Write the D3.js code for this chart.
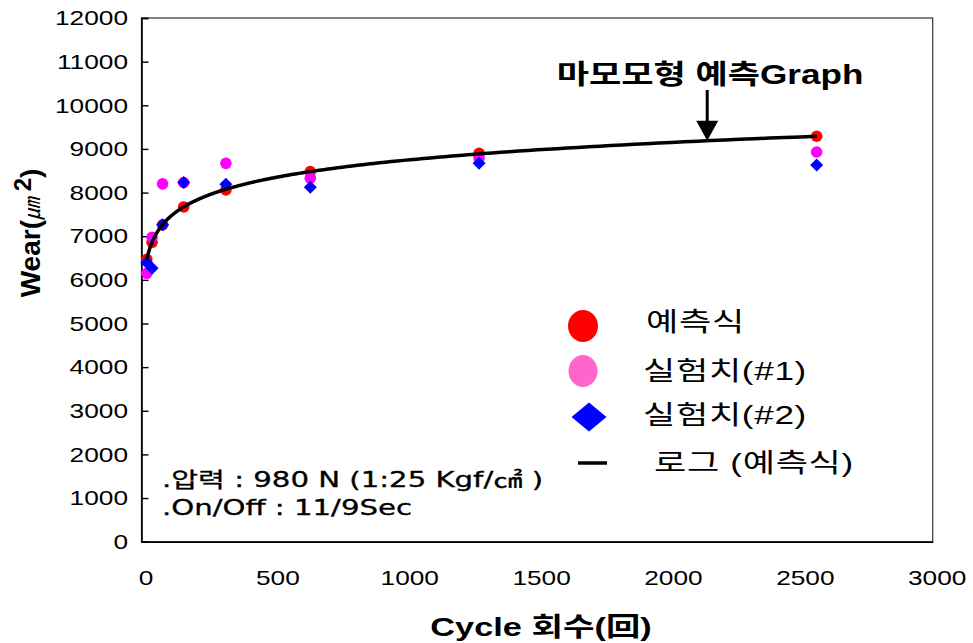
<!DOCTYPE html>
<html><head><meta charset="utf-8">
<script src="https://cdn.jsdelivr.net/npm/d3@7"></script>
<style>html,body{margin:0;padding:0;background:#fff;}svg{display:block;}</style>
</head><body>
<script>
// ---- data ----
const cycles = [20, 40, 80, 160, 320, 640, 1280, 2560];
const predicted = [6470, 6860, 7260, 7670, 8060, 8480, 8900, 9290];   // 예측식
const exp1 = [6150, 6975, 8200, 8230, 8670, 8330, 8790, 8930];        // 실험치(#1)
const exp2 = [6400, 6265, 7260, 8230, 8190, 8120, 8670, 8630];        // 실험치(#2)
const xTicks = [0, 500, 1000, 1500, 2000, 2500, 3000];
const yTicks = [0,1000,2000,3000,4000,5000,6000,7000,8000,9000,10000,11000,12000];
const legendLabels = ["예측식", "실험치(#1)", "실험치(#2)", "로그 (예측식)"];
const annotation = "마모모형 예측Graph";
const arrowCycle = 2145;
const noteLines = [".압력 : 980 N (1:25 Kgf/㎠ )", ".On/Off : 11/9Sec"];

const W = 973, H = 643;
const L = 141.5, T = 18, R = 932.7, B = 541.7;
const svg = d3.select("body").append("svg").attr("width", W).attr("height", H);

const x = d3.scaleLinear().domain([0, 3000]).range([L, R]);
const y = d3.scaleLinear().domain([0, 12000]).range([B, T]);

// frame
svg.append("rect").attr("x", L).attr("y", T).attr("width", R - L).attr("height", B - T)
  .attr("fill", "none").attr("stroke", "#333").attr("stroke-width", 1.2);

// y axis
const yAxis = d3.axisLeft(y).tickValues(yTicks).tickSize(-7).tickPadding(14).tickFormat(d3.format("d"));
const gy = svg.append("g").attr("transform", `translate(${L},0)`).call(yAxis);
gy.select(".domain").attr("stroke", "#000").attr("stroke-width", 1.6);
gy.selectAll(".tick line").attr("stroke", "#000").attr("stroke-width", 1.4);
gy.selectAll("text").attr("font-family", "Liberation Sans, Arial, sans-serif").attr("font-size", 21).attr("fill", "#000")
  .attr("x", 0).attr("transform", "translate(-13.5,0) scale(1.25,1)");

// x axis
const xAxis = d3.axisBottom(x).tickValues(xTicks).tickSize(0).tickPadding(28).tickFormat(d3.format("d"));
const gx = svg.append("g").attr("transform", `translate(0,${B})`).call(xAxis);
gx.select(".domain").attr("stroke", "#000").attr("stroke-width", 1.6);
gx.selectAll("text").attr("font-family", "Liberation Sans, Arial, sans-serif").attr("font-size", 21).attr("fill", "#000")
  .attr("transform", "translate(4,0) scale(1.25,1)");

// log trendline fit (least squares y = a ln x + b) on predicted series
const lx = cycles.map(Math.log);
const mx = d3.mean(lx), my = d3.mean(predicted);
const a = d3.sum(lx.map((v, i) => (v - mx) * (predicted[i] - my))) / d3.sum(lx.map(v => (v - mx) ** 2));
const b = my - a * mx;
const fit = c => a * Math.log(c) + b;

// points
const g = svg.append("g");
g.selectAll(".p0").data(cycles).enter().append("circle")
  .attr("cx", d => x(d)).attr("cy", (d, i) => y(predicted[i])).attr("r", 5.8).attr("fill", "#ff0000");
g.selectAll(".p1").data(cycles).enter().append("circle")
  .attr("cx", d => x(d)).attr("cy", (d, i) => y(exp1[i])).attr("r", 5.8).attr("fill", "#ff00ff");
const diamond = (cx, cy, hw, hh) => `M${cx},${cy - hh}L${cx + hw},${cy}L${cx},${cy + hh}L${cx - hw},${cy}Z`;
g.selectAll(".p2").data(cycles).enter().append("path")
  .attr("d", (d, i) => diamond(x(d), y(exp2[i]), 6.5, 6.5)).attr("fill", "#0000ff");

// trendline
const [c0, c1] = d3.extent(cycles);
const samples = d3.range(0, 201).map(k => c0 * Math.pow(c1 / c0, k / 200));
svg.append("path").datum(samples)
  .attr("d", d3.line().x(d => x(d)).y(d => y(fit(d))).curve(d3.curveLinear))
  .attr("fill", "none").attr("stroke", "#000").attr("stroke-width", 3.5);

// arrow annotation
const ax = x(arrowCycle), tipY = y(fit(arrowCycle));
svg.append("line").attr("x1", ax).attr("x2", ax).attr("y1", 90).attr("y2", tipY - 15)
  .attr("stroke", "#000").attr("stroke-width", 3);
svg.append("path").attr("d", `M${ax - 11},${tipY - 20}L${ax + 11},${tipY - 20}L${ax},${tipY}Z`).attr("fill", "#000");
svg.append("g").attr("transform", "translate(710,84) scale(1.3,1)")
  .append("text").attr("text-anchor", "middle")
  .attr("font-family", "Liberation Sans, Noto Sans CJK KR, sans-serif").attr("font-weight", "bold")
  .attr("font-size", 27).text(annotation);

// legend
const lg = svg.append("g").attr("font-family", "Liberation Sans, Noto Sans CJK KR, sans-serif").attr("font-size", 26);
lg.append("ellipse").attr("cx", 583).attr("cy", 326).attr("rx", 15).attr("ry", 16).attr("fill", "#ff0000");
lg.append("ellipse").attr("cx", 583).attr("cy", 371).attr("rx", 14.5).attr("ry", 16).attr("fill", "#ff66cc");
lg.append("path").attr("d", diamond(589, 417, 17.5, 14.5)).attr("fill", "#0000ff");
lg.append("line").attr("x1", 578).attr("x2", 607).attr("y1", 463).attr("y2", 463).attr("stroke", "#000").attr("stroke-width", 3.5);
const lgPos = [[646, 322], [643, 371], [643, 415], [654, 463]];
lg.selectAll("g.l").data(legendLabels).enter().append("g")
  .attr("transform", (d, i) => `translate(${lgPos[i][0]},${lgPos[i][1]}) scale(1.35,1)`)
  .append("text").attr("dy", "0.35em").attr("letter-spacing", 0.5).text(d => d);

// notes
svg.append("g").selectAll("g").data(noteLines).enter().append("g")
  .attr("transform", (d, i) => `translate(162,${487 + i * 28}) scale(1.39,1)`)
  .append("text")
  .attr("font-family", "DejaVu Sans, Noto Sans CJK KR, sans-serif").attr("font-size", 21)
  .attr("stroke", "#000").attr("stroke-width", 0.3)
  .text(d => d);

// axis titles
svg.append("g").attr("transform", "translate(541,636) scale(1.32,1)").append("text").attr("text-anchor", "middle")
  .attr("font-family", "Liberation Sans, Noto Sans CJK KR, sans-serif").attr("font-size", 26)
  .attr("font-weight", "bold").text("Cycle 회수(回)");
const yt = svg.append("text").attr("transform", "translate(40,233) rotate(-90)").attr("text-anchor", "middle")
  .attr("font-family", "Liberation Sans, Noto Sans CJK KR, sans-serif").attr("font-size", 28).attr("font-weight", "bold");
yt.append("tspan").text("Wear(");
yt.append("tspan").attr("font-style", "italic").attr("font-weight", "normal").attr("font-size", 22).text("㎛");
yt.append("tspan").attr("dy", -9).attr("font-size", 24).text(" 2");
yt.append("tspan").attr("dy", 9).text(")");
</script>
</body></html>
